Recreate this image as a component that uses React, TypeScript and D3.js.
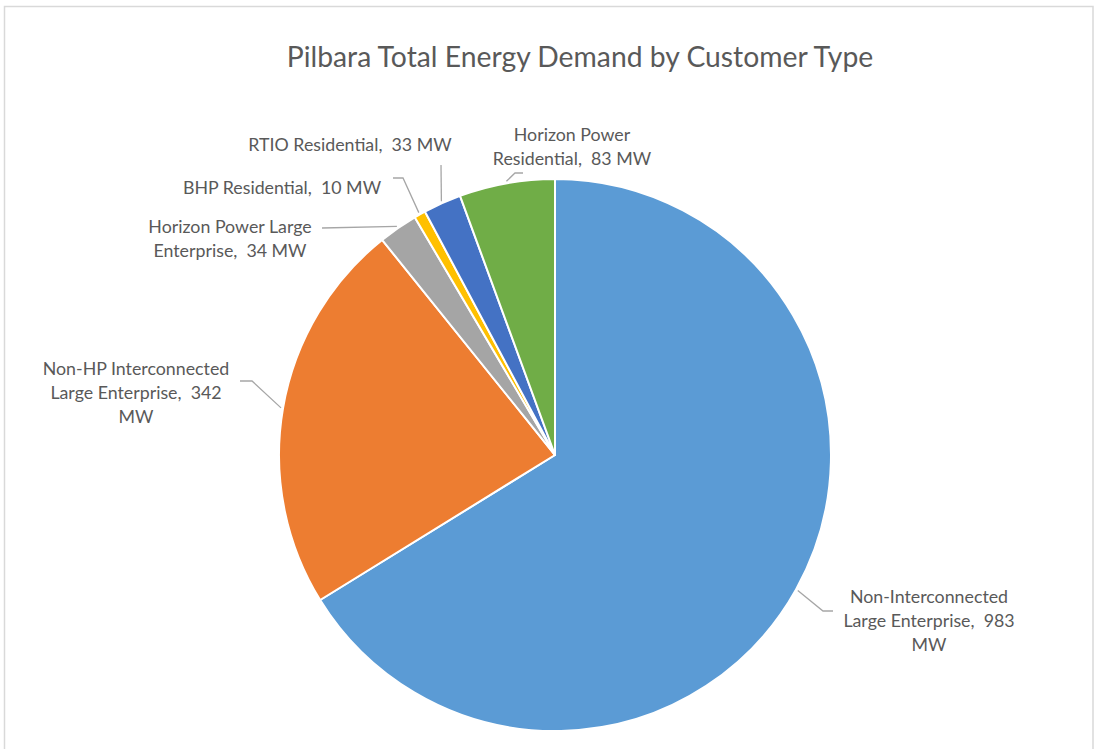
import React from "react";
import * as d3 from "d3";

const categories = [
  "Non-Interconnected Large Enterprise",
  "Non-HP Interconnected Large Enterprise",
  "Horizon Power Large Enterprise",
  "BHP Residential",
  "RTIO Residential",
  "Horizon Power Residential",
];
const values = [983, 342, 34, 10, 33, 83];
const unit = "MW";
const colors = ["#5B9BD5", "#ED7D31", "#A5A5A5", "#FFC000", "#4472C4", "#70AD47"];
const title = "Pilbara Total Energy Demand by Customer Type";

// label layout: text lines, anchor x, first baseline, leader path waypoints (after edge point)
const labelLayout = [
  { lines: ["Non-Interconnected", "Large Enterprise,  983", "MW"], x: 929, y: 603, pts: [[823, 611], [833, 611]] },
  { lines: ["Non-HP Interconnected", "Large Enterprise,  342", "MW"], x: 136, y: 375, pts: [[252, 381], [240, 381]] },
  { lines: ["Horizon Power Large", "Enterprise,  34 MW"], x: 230, y: 233, pts: [[322, 228]] },
  { lines: ["BHP Residential,  10 MW"], x: 282, y: 194, pts: [[403, 178], [393, 178]] },
  { lines: ["RTIO Residential,  33 MW"], x: 350, y: 151, pts: [[441, 165]] },
  { lines: ["Horizon Power", "Residential,  83 MW"], x: 572, y: 141, pts: [[515, 173], [523, 173]] },
];

export default function App() {
  const W = 1094, H = 749;
  const cx = 555, cy = 455, r = 276;
  const pie = d3.pie<number>().sort(null).value((d) => d)(values);
  const arc = d3.arc<d3.PieArcDatum<number>>().innerRadius(0).outerRadius(r);
  const edge = d3.arc<d3.PieArcDatum<number>>().innerRadius(r + 2).outerRadius(r + 2);
  const font = "Lato, 'Open Sans', sans-serif";
  return (
    <svg width={W} height={H} style={{ position: "absolute", left: 0, top: 0, background: "#fff" }}>
      <rect x={4.5} y={6.5} width={1088.5} height={760} fill="#fff" stroke="#d9d9d9" strokeWidth={1.5} />
      <text x={580} y={67} textAnchor="middle" fontFamily={font} fontSize={28.3} fill="#595959">
        {title}
      </text>
      <g transform={`translate(${cx},${cy})`}>
        {pie.map((d, i) => (
          <path key={i} d={arc(d) || ""} fill={colors[i]} stroke="#fff" strokeWidth={2} strokeLinejoin="round" />
        ))}
      </g>
      {pie.map((d, i) => {
        const [ex, ey] = edge.centroid(d);
        const L = labelLayout[i];
        const pts = [[cx + ex, cy + ey], ...L.pts];
        const line = d3.line()(pts as [number, number][]) || "";
        return (
          <g key={"l" + i}>
            <path d={line} fill="none" stroke="#a6a6a6" strokeWidth={1.3} />
            <text
              x={L.x}
              y={L.y}
              textAnchor="middle"
              fontFamily={font}
              fontSize={17.8}
              fill="#595959"
              style={{ whiteSpace: "pre" }}
            >
              {L.lines.map((t, j) => (
                <tspan key={j} x={L.x} dy={j === 0 ? 0 : 24}>
                  {t}
                </tspan>
              ))}
            </text>
          </g>
        );
      })}
    </svg>
  );
}
